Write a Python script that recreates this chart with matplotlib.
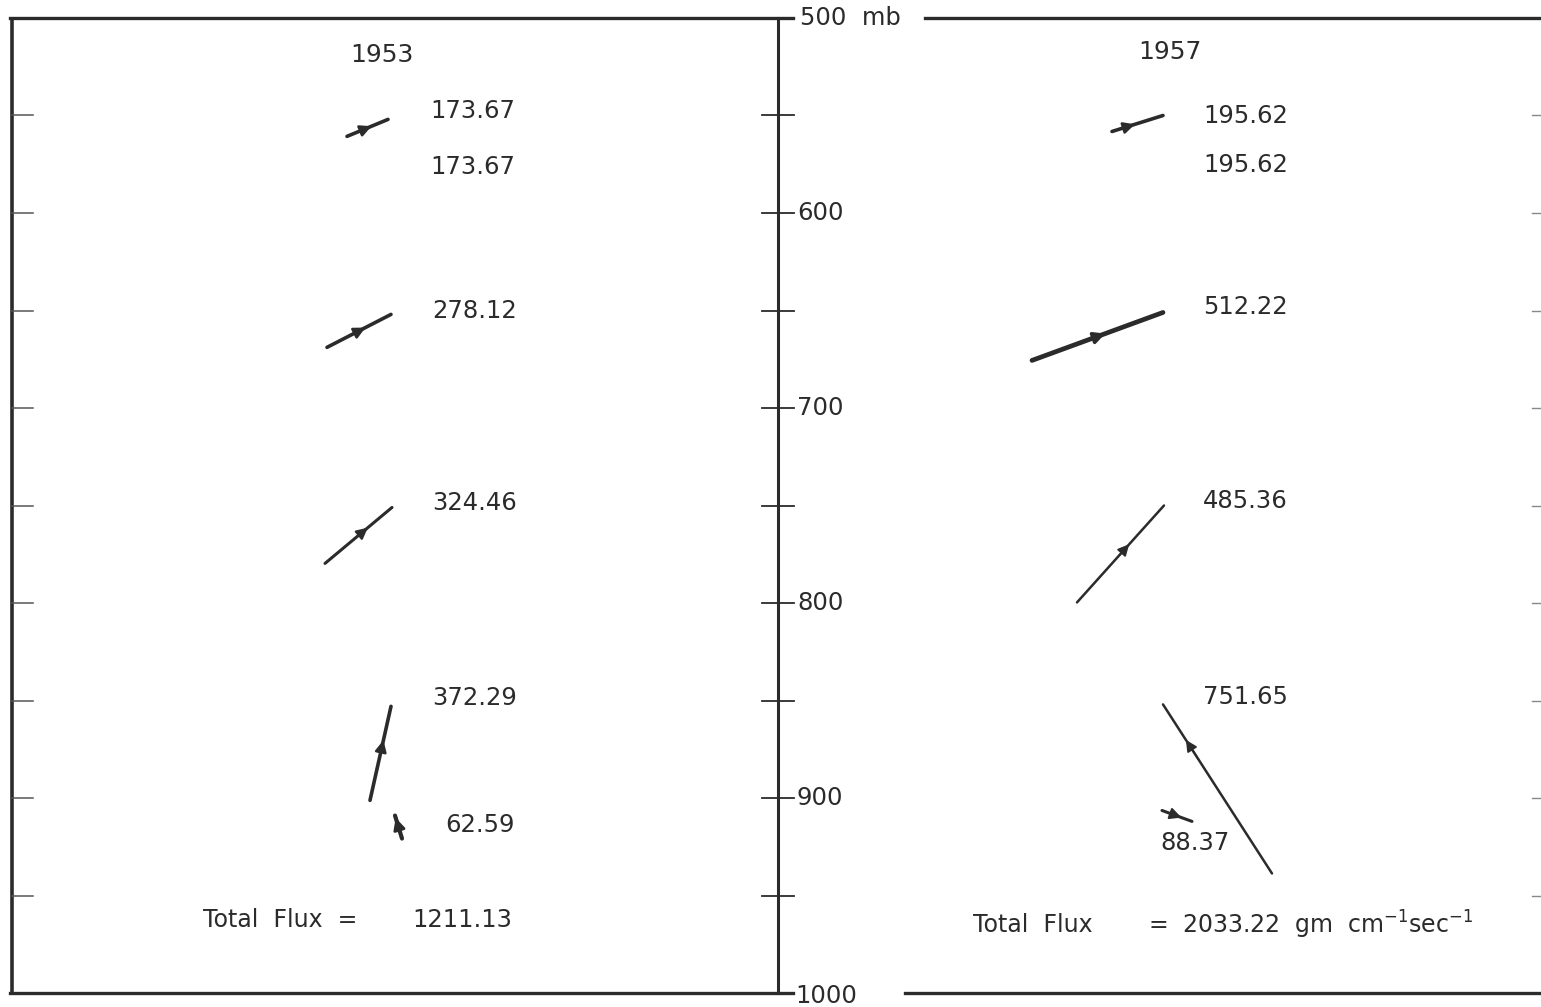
import numpy as np
import matplotlib
matplotlib.use('Agg')
import matplotlib.pyplot as plt

# pressure levels of the frame (mb)
P_TOP, P_BOT = 500, 1000
tick_levels = [550, 600, 650, 700, 750, 800, 850, 900, 950]
label_levels = [600, 700, 800, 900]

# 1953 flux vectors: tip position (x, mb) and tail->tip components
years = ['1953', '1957']
tip_x_1953 = [388, 391, 392, 391, 395]
tip_p_1953 = [552, 652, 751, 853, 909]
dx_1953 = [41, 64, 67, 21, -7]
dp_1953 = [-8.7, -16.9, -28.7, -48.2, -11.8]
flux_1953 = ['173.67', '278.12', '324.46', '372.29', '62.59']
total_1953 = '1211.13'

# 1957 flux vectors
tip_x_1957 = [1163, 1163, 1164, 1163, 1192]
tip_p_1957 = [550, 651, 750, 852, 912]
dx_1957 = [51, 131, 87, -109, 30]
dp_1957 = [-8.2, -24.6, -49.7, -86.7, 5.6]
flux_1957 = ['195.62', '512.22', '485.36', '751.65', '88.37']
total_1957 = '2033.22'

INK = '#2b2b2b'
PX_PER_MB = 1.95
TOP_PX = 18


def p_of(px):
    return P_TOP + (px - TOP_PX) / PX_PER_MB


fig = plt.figure(figsize=(15.41, 10.07), dpi=100, facecolor='white')
ax = fig.add_axes([0, 0, 1, 1])
ax.set_xlim(0, 1541)
ax.set_ylim(p_of(1007), p_of(0))
ax.axis('off')

# frames
ax.plot([12, 12], [P_TOP, P_BOT], color=INK, lw=2.6, solid_capstyle='butt')
ax.plot([10, 793], [P_TOP, P_TOP], color=INK, lw=2.4)
ax.plot([10, 793], [P_BOT, P_BOT], color=INK, lw=2.4)
ax.plot([778, 778], [P_TOP, P_BOT], color=INK, lw=2.2)
ax.plot([925, 1541], [P_TOP, P_TOP], color=INK, lw=2.4)
ax.plot([905, 1541], [P_BOT, P_BOT], color=INK, lw=2.4)

for p in tick_levels:
    ax.plot([12, 33], [p, p], color='#555555', lw=1.1)
    ax.plot([762, 794], [p, p], color=INK, lw=1.3)
    ax.plot([1532, 1541], [p, p], color='#888888', lw=1.0)

ax.text(800, P_TOP, '500  mb', fontsize=17.5, color=INK, va='center', ha='left')
for p in label_levels:
    ax.text(797, p, str(p), fontsize=17.5, color=INK, va='center', ha='left')
ax.text(795, p_of(996), '1000', fontsize=17.5, color=INK, va='center', ha='left')


def draw_vectors(tx, tp, dx, dp, fracs, widths):
    for x, p, u, v, f, w in zip(tx, tp, dx, dp, fracs, widths):
        x0, p0 = x - u, p - v
        ax.plot([x0, x], [p0, p], color=INK, lw=w, solid_capstyle='round')
        hx, hp = x0 + f * u, p0 + f * v
        ax.annotate('', xy=(hx, hp), xytext=(hx - 0.12 * u, hp - 0.12 * v),
                    arrowprops=dict(arrowstyle='-|>', color=INK, lw=w * 0.7,
                                    mutation_scale=17, shrinkA=0, shrinkB=0))


draw_vectors(tip_x_1953, tip_p_1953, dx_1953, dp_1953,
             [0.6, 0.6, 0.64, 0.64, 0.9], [2.6, 2.6, 2.2, 2.6, 3.0])
draw_vectors(tip_x_1957, tip_p_1957, dx_1957, dp_1957,
             [0.45, 0.56, 0.6, 0.79, 0.65], [2.6, 3.4, 1.8, 1.8, 2.2])

# 1953 labels
ax.text(382, p_of(55), years[0], fontsize=18, color=INK, ha='center', va='center')
lab_px_1953 = [111, 311, 503, 698, 825]
lab_x_1953 = [430, 432, 432, 432, 445]
for x, y, s in zip(lab_x_1953, lab_px_1953, flux_1953):
    ax.text(x, p_of(y), s, fontsize=17.5, color=INK, va='center')
ax.text(430, p_of(167), flux_1953[0], fontsize=17.5, color=INK, va='center')
ax.text(203, p_of(920), 'Total  Flux  =', fontsize=17, color=INK, va='center')
ax.text(412, p_of(920), total_1953, fontsize=17.5, color=INK, va='center')

# 1957 labels
ax.text(1170, p_of(52), years[1], fontsize=18, color=INK, ha='center', va='center')
lab_px_1957 = [116, 307, 501, 697, 843]
lab_x_1957 = [1203, 1203, 1203, 1203, 1160]
for x, y, s in zip(lab_x_1957, lab_px_1957, flux_1957):
    ax.text(x, p_of(y), s, fontsize=17.5, color=INK, va='center')
ax.text(1203, p_of(165), flux_1957[0], fontsize=17.5, color=INK, va='center')
ax.text(973, p_of(925), 'Total  Flux', fontsize=17, color=INK, va='center')
ax.text(1148, p_of(925), '=  ' + total_1957 + '  gm  cm$^{-1}$sec$^{-1}$',
        fontsize=17, color=INK, va='center')

fig.savefig('out.png', dpi=100, facecolor='white')
